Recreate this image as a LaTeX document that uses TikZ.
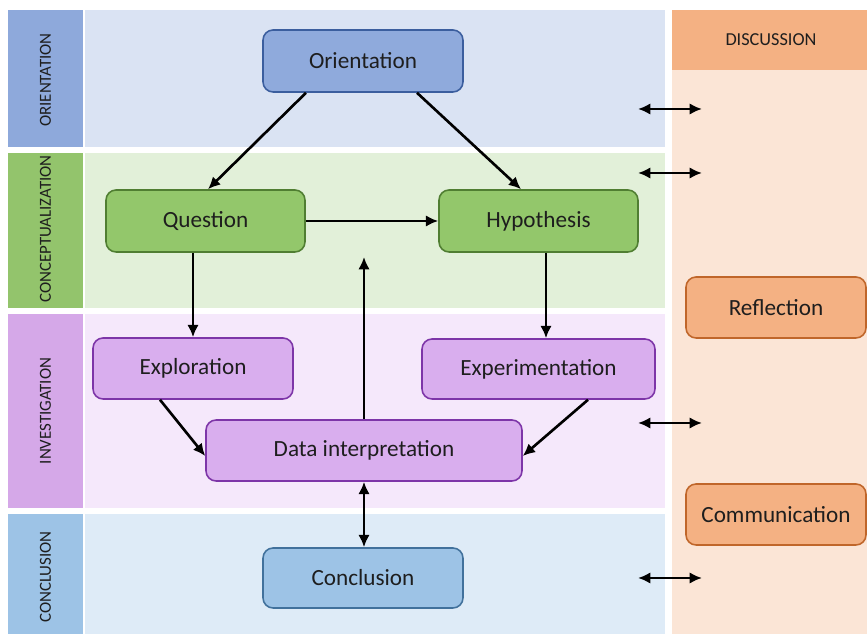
\documentclass[tikz,border=0pt]{standalone}
\usepackage{fontspec}
\setmainfont{Carlito}
\usetikzlibrary{arrows.meta,calc}
\definecolor{oriL}{HTML}{8EA9DB}
\definecolor{oriB}{HTML}{DAE3F3}
\definecolor{oriN}{HTML}{8FAADC}
\definecolor{oriD}{HTML}{3B5E9E}
\definecolor{conL}{HTML}{93C46C}
\definecolor{conB}{HTML}{E2F0D9}
\definecolor{conN}{HTML}{93C76B}
\definecolor{conD}{HTML}{507E32}
\definecolor{invL}{HTML}{D5A8E8}
\definecolor{invB}{HTML}{F5E8FB}
\definecolor{invN}{HTML}{D9AEEE}
\definecolor{invD}{HTML}{7D35A8}
\definecolor{cncL}{HTML}{9DC3E6}
\definecolor{cncB}{HTML}{DEEBF7}
\definecolor{cncN}{HTML}{9DC3E6}
\definecolor{cncD}{HTML}{41719C}
\definecolor{disL}{HTML}{F4B183}
\definecolor{disB}{HTML}{FBE5D6}
\definecolor{disN}{HTML}{F4B183}
\definecolor{disD}{HTML}{C0662A}
\definecolor{txt}{HTML}{1E1E1E}
\tikzset{
  stagebox/.style={rounded corners=0.2cm, line width=0.9pt, align=center,
    font=\fontsize{13.2}{15}\selectfont, text=txt, inner sep=0pt},
  sidelabel/.style={rotate=90, font=\fontsize{9.6}{11}\selectfont, text=txt},
  arr/.style={line width=1.5pt, -{Latex[length=7pt,width=6.5pt]}},
  darr/.style={line width=1.5pt, {Latex[length=7pt,width=6.5pt]}-{Latex[length=7pt,width=6.5pt]}}
}
\begin{document}
\begin{tikzpicture}[x=0.02cm,y=-0.02cm]
\useasboundingbox (0,0) rectangle (867,634);
\fill[white] (0,0) rectangle (867,634);
% bands
\fill[oriL] (8,10) rectangle (83,147);
\fill[oriB] (85,10) rectangle (665,147);
\fill[conL] (8,153) rectangle (83,308);
\fill[conB] (85,153) rectangle (665,308);
\fill[invL] (8,314) rectangle (83,508);
\fill[invB] (85,314) rectangle (665,508);
\fill[cncL] (8,514) rectangle (83,634);
\fill[cncB] (85,514) rectangle (665,634);
\fill[disL] (672,10) rectangle (867,70);
\fill[disB] (672,70) rectangle (867,634);
% band labels
\node[sidelabel] (lo) at (45.5,80) {ORIENTATION};
\node[sidelabel] (lc) at (45.5,229) {CONCEPTUALIZATION};
\node[sidelabel] (li) at (45.5,411) {INVESTIGATION};
\node[sidelabel] (ll) at (45.5,577) {CONCLUSION};
\node[font=\fontsize{10.4}{12}\selectfont, text=txt] (ld) at (771,40) {DISCUSSION};
% stage nodes
\node[stagebox, fill=oriN, draw=oriD, minimum width=4cm, minimum height=1.24cm] (o) at (363,61) {Orientation};
\node[stagebox, fill=conN, draw=conD, minimum width=3.98cm, minimum height=1.24cm] (q) at (205.5,221) {Question};
\node[stagebox, fill=conN, draw=conD, minimum width=3.98cm, minimum height=1.24cm] (h) at (538.5,221) {Hypothesis};
\node[stagebox, fill=invN, draw=invD, minimum width=4cm, minimum height=1.22cm] (e) at (193,368.5) {Exploration};
\node[stagebox, fill=invN, draw=invD, minimum width=4.66cm, minimum height=1.2cm] (x) at (538.5,369) {Experimentation};
\node[stagebox, fill=invN, draw=invD, minimum width=6.32cm, minimum height=1.22cm] (d) at (364,450.5) {Data interpretation};
\node[stagebox, fill=cncN, draw=cncD, minimum width=4cm, minimum height=1.2cm] (c) at (363,578) {Conclusion};
\node[stagebox, fill=disN, draw=disD, minimum width=3.6cm, minimum height=1.22cm] (r) at (776,307.5) {Reflection};
\node[stagebox, fill=disN, draw=disD, minimum width=3.6cm, minimum height=1.22cm] (m) at (776,514.5) {Communication};
% connectors
\draw[arr] (306,0 |- o.south) -- (208,0 |- q.north);
\draw[arr] (417,0 |- o.south) -- (521,0 |- h.north);
\draw[arr] (q.east) -- (h.west);
\draw[arr] (193,0 |- q.south) -- (193,0 |- e.north);
\draw[arr] (546,0 |- h.south) -- (546,0 |- x.north);
\draw[arr] (160,0 |- e.south) -- (d.west |- 0,456);
\draw[arr] (588,0 |- x.south) -- (d.east |- 0,456);
\coordinate (up) at (364,257);
\draw[arr] (364,0 |- d.north) -- (up);
\draw[darr] (364,0 |- d.south) -- (364,0 |- c.north);
% discussion links
\coordinate (a1) at (638,109); \coordinate (b1) at (702,109);
\coordinate (a2) at (638,173); \coordinate (b2) at (702,173);
\coordinate (a3) at (638,423); \coordinate (b3) at (702,423);
\coordinate (a4) at (638,578); \coordinate (b4) at (702,578);
\draw[darr] (a1) -- (b1);
\draw[darr] (a2) -- (b2);
\draw[darr] (a3) -- (b3);
\draw[darr] (a4) -- (b4);
\end{tikzpicture}
\end{document}
